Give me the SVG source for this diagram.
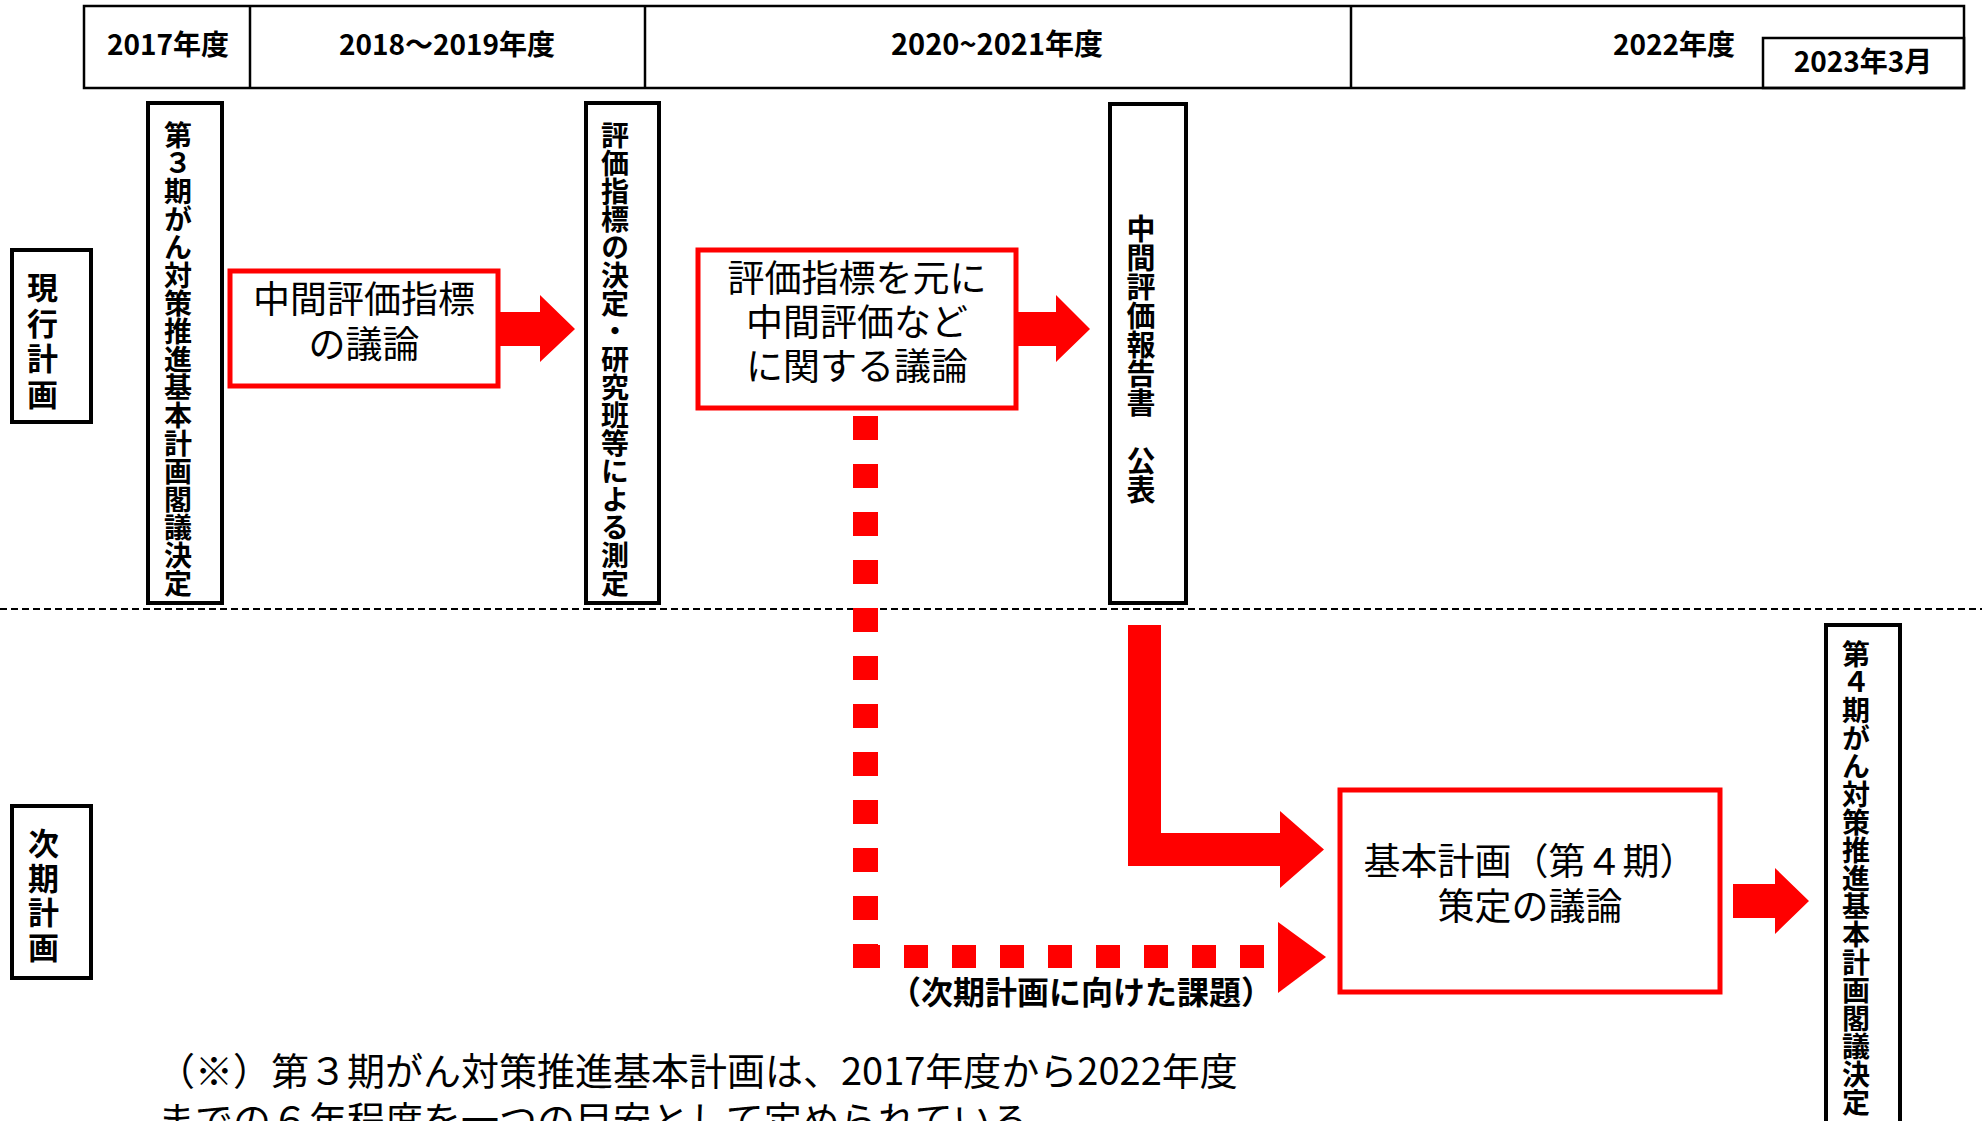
<svg xmlns="http://www.w3.org/2000/svg" width="1982" height="1121" viewBox="0 0 1982 1121">
<defs>
<style>
.bg{fill:#ffffff}
.hdr{fill:none;stroke:#000;stroke-width:2.5}
.bbox{fill:#fff;stroke:#000;stroke-width:4}
.rbox{fill:#fff;stroke:#ff0000;stroke-width:5}
.arrow{fill:#ff0000;stroke:none}
.hd{font-family:"Noto Sans CJK JP","Noto Sans",sans-serif;font-weight:700;font-size:28px;fill:#000;text-anchor:middle}
.vt{font-family:"Noto Sans CJK JP",sans-serif;font-weight:700;fill:#000;writing-mode:vertical-rl;text-orientation:upright}
.rt{font-family:"Noto Sans CJK JP",sans-serif;font-weight:400;font-size:37px;fill:#000;text-anchor:middle}
.lbl{font-family:"Noto Sans CJK JP",sans-serif;font-weight:700;font-size:32px;fill:#000;text-anchor:middle}
.note{font-family:"Noto Sans CJK JP",sans-serif;font-weight:400;font-size:38px;fill:#000}
</style>
</defs>
<rect class="bg" x="0" y="0" width="1982" height="1121"/>

<g id="header">
<rect class="hdr" x="84" y="6" width="1880" height="82"/>
<line class="hdr" x1="250" y1="6" x2="250" y2="88"/>
<line class="hdr" x1="645" y1="6" x2="645" y2="88"/>
<line class="hdr" x1="1351" y1="6" x2="1351" y2="88"/>
<rect class="hdr" x="1763" y="38" width="201" height="50"/>
<text class="hd" x="168" y="55">2017年度</text>
<text class="hd" x="447" y="55">2018～2019年度</text>
<text class="hd" x="997" y="55" style="font-size:29px">2020~2021年度</text>
<text class="hd" x="1674" y="55">2022年度</text>
<text class="hd" x="1863" y="72">2023年3月</text>
</g>

<line x1="0" y1="609" x2="1982" y2="609" stroke="#000" stroke-width="2" stroke-dasharray="7 4"/>

<g id="current-plan">
<rect class="bbox" x="12" y="250" width="79" height="172"/>
<text class="vt" x="42.5" y="272" style="font-size:31px;letter-spacing:4.6px">現行計画</text>
</g>

<g id="next-plan">
<rect class="bbox" x="12" y="806" width="79" height="172"/>
<text class="vt" x="43.5" y="828" style="font-size:31px;letter-spacing:3.5px">次期計画</text>
</g>

<g id="plan3-decision">
<rect class="bbox" x="148" y="103" width="74" height="500"/>
<text class="vt" x="178" y="121" style="font-size:28px">第３期がん対策推進基本計画閣議決定</text>
</g>

<g id="indicator-discussion">
<rect class="rbox" x="230" y="271" width="268" height="115"/>
<text class="rt" x="364" y="313">中間評価指標</text>
<text class="rt" x="364" y="358">の議論</text>
</g>

<g id="indicator-decision">
<rect class="bbox" x="586" y="103" width="73" height="500"/>
<text class="vt" x="615" y="121" style="font-size:28px">評価指標の決定・研究班等による測定</text>
</g>

<g id="midterm-discussion">
<rect class="rbox" x="698" y="250" width="318" height="158"/>
<text class="rt" x="857" y="292">評価指標を元に</text>
<text class="rt" x="857" y="336">中間評価など</text>
<text class="rt" x="857" y="380">に関する議論</text>
</g>

<g id="midterm-report">
<rect class="bbox" x="1110" y="104" width="76" height="499"/>
<text class="vt" x="1141" y="214" style="font-size:29px">中間評価報告書　公表</text>
</g>

<g id="plan4-discussion">
<rect class="rbox" x="1340" y="790" width="380" height="202"/>
<text class="rt" x="1530" y="875">基本計画（第４期）</text>
<text class="rt" x="1530" y="920">策定の議論</text>
</g>

<g id="plan4-decision">
<rect class="bbox" x="1826" y="625" width="74" height="500"/>
<text class="vt" x="1856" y="640" style="font-size:28px">第４期がん対策推進基本計画閣議決定</text>
</g>

<g id="connectors">
<polygon class="arrow" points="498,312 540,312 540,295 575,329 540,362 540,346 498,346"/>
<polygon class="arrow" points="1016,312 1056,312 1056,295 1090,329 1056,362 1056,346 1016,346"/>
<polygon class="arrow" points="1733,884 1775,884 1775,868 1809,901 1775,934 1775,918 1733,918"/>
<polygon class="arrow" points="1128,625 1161,625 1161,833 1280,833 1280,811 1324,849.5 1280,888 1280,866 1128,866"/>
<line x1="865.5" y1="416" x2="865.5" y2="968" stroke="#ff0000" stroke-width="25" stroke-dasharray="24 24"/>
<line x1="856" y1="956.5" x2="1264" y2="956.5" stroke="#ff0000" stroke-width="23" stroke-dasharray="24 24"/>
<polygon class="arrow" points="1278,922 1326,957 1278,993"/>
<text class="lbl" x="1081" y="1004">（次期計画に向けた課題）</text>
</g>

<g id="footnote">
<text class="note" x="157" y="1085">（※）第３期がん対策推進基本計画は、2017年度から2022年度</text>
<text class="note" x="157" y="1134">までの６年程度を一つの目安として定められている</text>
</g>
</svg>
